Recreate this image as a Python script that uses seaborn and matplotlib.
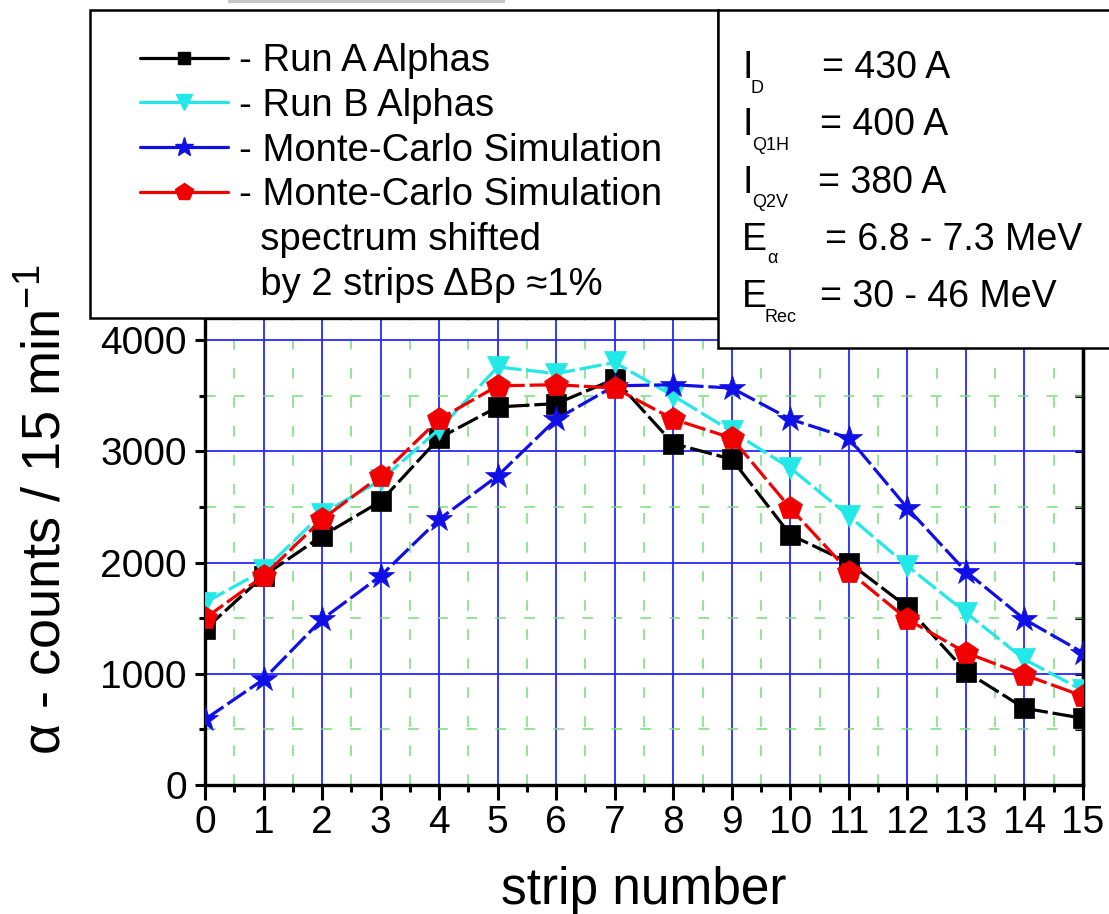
import matplotlib
matplotlib.use('Agg')
from matplotlib import pyplot as plt
from matplotlib.lines import Line2D
from matplotlib.patches import Rectangle
from matplotlib.ticker import MultipleLocator
import pandas as pd
import seaborn as sns

strips = list(range(16))
run_a = [1400, 1880, 2240, 2550, 3120, 3400, 3430, 3650, 3070, 2930, 2250, 2000, 1600, 1020, 690, 600]
run_b = [1640, 1930, 2440, 2740, 3200, 3760, 3700, 3800, 3500, 3180, 2850, 2420, 1970, 1550, 1130, 850]
mc_sim = [590, 950, 1490, 1880, 2390, 2780, 3290, 3590, 3600, 3570, 3290, 3120, 2490, 1920, 1490, 1190]
mc_shift = [1500, 1880, 2390, 2780, 3290, 3590, 3600, 3570, 3290, 3120, 2490, 1920, 1490, 1190, 990, 800]

labels = ['- Run A Alphas', '- Run B Alphas', '- Monte-Carlo Simulation',
          '- Monte-Carlo Simulation', '  spectrum shifted', '  by 2 strips \u0394B\u03c1 \u22481%']
info_main = ['I', 'I', 'I', 'E', 'E']
info_sub = ['D', 'Q1H', 'Q2V', '\u03b1', 'Rec']
info_val = ['= 430 A', '= 400 A', '= 380 A', '= 6.8 - 7.3 MeV', '= 30 - 46 MeV']

sns.set_style('white')
plt.rcParams['font.family'] = ['Liberation Sans', 'DejaVu Sans']
plt.rcParams['mathtext.fontset'] = 'custom'
plt.rcParams['mathtext.rm'] = 'Liberation Sans'
plt.rcParams['mathtext.it'] = 'Liberation Sans:italic'
for k in ['text.color', 'axes.labelcolor', 'xtick.color', 'ytick.color']:
    plt.rcParams[k] = 'black'

W, H = 1109, 914
fig = plt.figure(figsize=(W / 100, H / 100), dpi=100)
ax = fig.add_axes([205 / W, 129 / H, 878 / W, 467 / H])

df = pd.DataFrame({'strip': strips, 'a': run_a, 'b': run_b, 'mc': mc_sim, 'mcs': mc_shift})
series = [
    ('a', 'black', 's', 14),
    ('b', '#22E8E8', 'v', 16),
    ('mc', '#1010E6', '*', 19),
    ('mcs', '#F00000', 'p', 17.5),
]
for col, c, m, ms in series:
    sns.lineplot(data=df, x='strip', y=col, ax=ax, color=c, marker=m, markersize=ms,
                 markeredgecolor=c, markeredgewidth=0.5, linewidth=2.3,
                 linestyle=(0, (7, 1.5)), zorder=3)

ax.set_xlim(0, 15)
ax.set_ylim(0, 4200)
ax.xaxis.set_major_locator(MultipleLocator(1))
ax.xaxis.set_minor_locator(MultipleLocator(0.5))
ax.yaxis.set_major_locator(MultipleLocator(1000))
ax.yaxis.set_minor_locator(MultipleLocator(500))
ax.set_yticks([0, 1000, 2000, 3000, 4000])

ax.grid(which='major', color='#2828FF', linewidth=1.3, zorder=1)
ax.grid(which='minor', color='#77DD77', linewidth=1.1, linestyle=(0, (7, 12)), zorder=1)
ax.set_axisbelow(True)

for s in ['left', 'bottom', 'right', 'top']:
    ax.spines[s].set_linewidth(2.4)
    ax.spines[s].set_color('black')

ax.tick_params(axis='x', which='major', direction='out', length=10.5, width=2.2,
               labelsize=28, pad=4, bottom=True, top=False)
ax.tick_params(axis='x', which='minor', direction='out', length=5, width=2.2, bottom=True, top=False)
ax.tick_params(axis='y', which='major', direction='out', length=7, width=2.2,
               labelsize=28, pad=6, left=True, right=False)
ax.tick_params(axis='y', which='minor', direction='out', length=4, width=2.2, left=True, right=False)

# inward ticks on the right spine
rax = ax.secondary_yaxis('right')
rax.yaxis.set_major_locator(MultipleLocator(500))
rax.tick_params(direction='in', length=6, width=2.2, labelright=False)
rax.spines['right'].set_linewidth(2.4)

ax.set_xlabel('strip number', fontsize=37, labelpad=18)
ax.set_ylabel(r'$\mathregular{\alpha}$ - counts / 15 min$^{\mathregular{-1}}$', fontsize=39)
ax.yaxis.set_label_coords(-0.152, 0.59)

# legend box and info box
fig.add_artist(Rectangle((90 / W, 1 - 318 / H), 628 / W, 308 / H, transform=fig.transFigure,
                         facecolor='white', edgecolor='black', linewidth=1.8, zorder=2))
fig.add_artist(Rectangle((718 / W, 1 - 348 / H), 400 / W, 338 / H, transform=fig.transFigure,
                         facecolor='white', edgecolor='black', linewidth=1.8, zorder=2))
fig.add_artist(Rectangle((228 / W, 1 - 3 / H), 277 / W, 3 / H, transform=fig.transFigure,
                         facecolor='#C8C8C8', edgecolor='none', zorder=2))

handles = [
    Line2D([], [], color='black', marker='s', markersize=8, linewidth=2.3),
    Line2D([], [], color='#22E8E8', marker='v', markersize=12, linewidth=2.3),
    Line2D([], [], color='#1010E6', marker='*', markersize=14, linewidth=2.3),
    Line2D([], [], color='#F00000', marker='p', markersize=13, linewidth=2.3),
    Line2D([], [], color='none'),
    Line2D([], [], color='none'),
]
leg = fig.legend(handles, labels, loc='upper left', bbox_to_anchor=(140 / W, 1 - 43 / H),
                 frameon=False, fontsize=27.5, handlelength=2.3, handletextpad=0.3,
                 labelspacing=0.23, borderpad=0, borderaxespad=0)
leg.set_zorder(5)

main_base = [78, 135, 193, 250, 307]
sub_base = [93, 150, 207, 263, 322]
sub_x = [750, 752, 752, 767, 765]
val_x = [822, 820, 818, 825, 820]
for i in range(5):
    fig.text(742 / W, 1 - main_base[i] / H, info_main[i], fontsize=27, va='baseline', zorder=6)
    fig.text(sub_x[i] / W, 1 - sub_base[i] / H, info_sub[i], fontsize=13, va='baseline', zorder=6)
    fig.text(val_x[i] / W, 1 - main_base[i] / H, info_val[i], fontsize=27, va='baseline', zorder=6)

fig.savefig('out.png', dpi=100)
